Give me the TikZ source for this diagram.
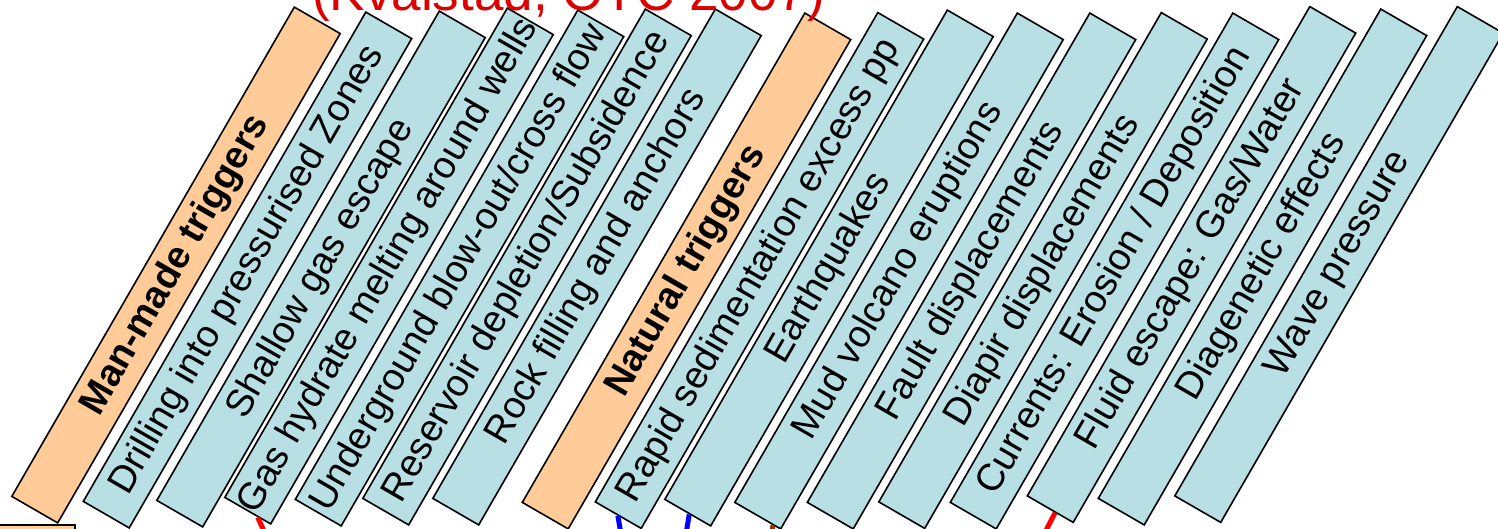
\documentclass[tikz,border=0pt]{standalone}
\usepackage{fontspec}
\setmainfont{Liberation Sans}
\usetikzlibrary{calc}
\definecolor{boxblue}{RGB}{184,223,227}
\definecolor{boxorange}{RGB}{255,204,153}
\definecolor{titlered}{RGB}{221,0,0}
\definecolor{linkbrown}{RGB}{153,51,0}
\begin{document}
\begin{tikzpicture}[x=1pt,y=1pt,
  trig/.style={draw=black, line width=1.6pt, rotate=60, minimum width=565pt,
    minimum height=53pt, inner sep=0pt, anchor=center,
    font=\fontsize{38}{40}\selectfont},
  cause/.style={trig, fill=boxblue},
  headbox/.style={trig, fill=boxorange, font=\fontsize{38}{40}\selectfont\bfseries},
  link/.style={line width=5pt}]
\useasboundingbox (0,0) rectangle (1498,528);
\clip (0,0) rectangle (1498,528);

% partial box at bottom-left corner
\draw[fill=boxorange, line width=1.6pt] (-5,3) rectangle (75,-20);

\node[headbox] (b1)  at (176,263)    {Man-made triggers};
\node[cause]   (b2)  at (247.5,258)  {Drilling into pressurised Zones};
\node[cause]   (b3)  at (321,259)    {Shallow gas escape};
\node[cause]   (b4)  at (389,262)    {Gas hydrate melting around wells};
\node[cause]   (b5)  at (459.5,260)  {Underground blow-out/cross flow};
\node[cause]   (b6)  at (527,261)    {Reservoir depletion/Subsidence};
\node[cause]   (b7)  at (597,261)    {Rock filling and anchors};
\node[headbox] (b8)  at (686.5,257)  {Natural triggers};
\node[cause]   (b9)  at (759.5,257.5){Rapid sedimentation excess pp};
\node[cause]   (b10) at (829,260)    {Earthquakes};
\node[cause]   (b11) at (899,257)    {Mud volcano eruptions};
\node[cause]   (b12) at (971.5,257)  {Fault displacements};
\node[cause]   (b13) at (1043,257.5) {Diapir displacements};
\node[cause]   (b14) at (1114.5,257) {Currents: Erosion / Deposition};
\node[cause]   (b15) at (1191.5,263.5){Fluid escape: Gas/Water};
\node[cause]   (b16) at (1262.5,261) {Diagenetic effects};
\node[cause]   (b17) at (1339,263.5) {Wave pressure};

% free ends of the connectors, below the visible area
\coordinate (e1) at (268,-12);
\coordinate (e2) at (622,-12);
\coordinate (e3) at (685,-12);
\coordinate (e4) at (770,-12);
\coordinate (e5) at (1041,-12);

\draw[link, red]       ($(b4.north west)!0.72!(b4.south west)$) -- (e1);
\draw[link, blue]      ($(b9.north west)!0.50!(b9.south west)$) -- (e2);
\draw[link, blue]      ($(b10.north west)!0.54!(b10.south west)$) -- (e3);
\draw[link, linkbrown] ($(b11.north west)!0.83!(b11.south west)$) -- (e4);
\draw[link, red]       ($(b15.north west)!0.61!(b15.south west)$) -- (e5);

\node[anchor=base, text=titlered, font=\fontsize{53}{60}\selectfont, inner sep=0pt]
  (title) at (568.5,517) {(Kvalstad, OTC 2007)};
\end{tikzpicture}
\end{document}
